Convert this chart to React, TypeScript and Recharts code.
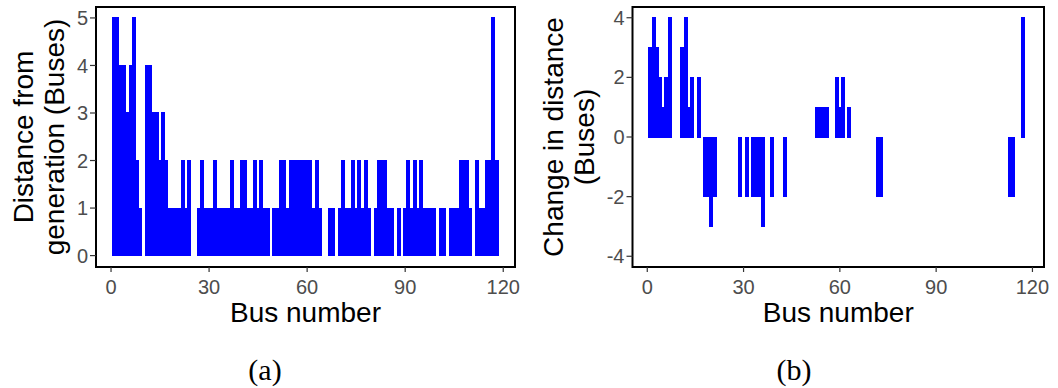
import React from 'react';
import { BarChart, Bar, XAxis, YAxis, ReferenceArea } from 'recharts';

// Bus numbers (categories) of the 118-bus system
const busNumbers: number[] = Array.from({ length: 118 }, (_, i) => i + 1);

// (a) Distance from generation (Buses)
const distanceFromGeneration: number[] = [
  5, 5, 4, 4, 3, 4, 5, 2, 1, 0,
  4, 4, 3, 3, 2, 3, 2, 1, 1, 1,
  1, 2, 1, 2, 0, 0, 1, 2, 1, 1,
  1, 2, 1, 1, 1, 1, 2, 1, 1, 2,
  2, 1, 1, 2, 1, 2, 1, 1, 0, 1,
  1, 2, 2, 1, 2, 2, 2, 2, 2, 2,
  2, 1, 2, 1, 0, 0, 1, 1, 0, 1,
  2, 1, 1, 2, 1, 2, 1, 2, 1, 0,
  1, 2, 2, 2, 1, 1, 0, 1, 0, 1,
  2, 1, 2, 1, 2, 1, 1, 1, 1, 0,
  1, 1, 0, 1, 1, 1, 2, 2, 2, 1,
  0, 2, 1, 1, 2, 2, 5, 2,
];

// (b) Change in distance (Buses)
const changeInDistance: number[] = [
  3, 4, 3, 2, 1, 2, 4, 0, 0, 0,
  3, 4, 1, 2, 0, 2, 0, -2, -2, -3,
  -2, 0, 0, 0, 0, 0, 0, 0, -2, 0,
  -2, 0, -2, -2, -2, -3, 0, 0, -2, 0,
  0, 0, -2, 0, 0, 0, 0, 0, 0, 0,
  0, 0, 1, 1, 1, 1, 0, 0, 2, 1,
  2, 0, 1, 0, 0, 0, 0, 0, 0, 0,
  0, -2, -2, 0, 0, 0, 0, 0, 0, 0,
  0, 0, 0, 0, 0, 0, 0, 0, 0, 0,
  0, 0, 0, 0, 0, 0, 0, 0, 0, 0,
  0, 0, 0, 0, 0, 0, 0, 0, 0, 0,
  0, 0, -2, -2, 0, 0, 4, 0,
];

const xTicks: number[] = [0, 30, 60, 90, 120];
const distanceTicks: number[] = [0, 1, 2, 3, 4, 5];
const changeTicks: number[] = [-4, -2, 0, 2, 4];

const distanceData = busNumbers.map((bus, i) => ({ bus, value: distanceFromGeneration[i] }));
const changeData = busNumbers.map((bus, i) => ({ bus, value: changeInDistance[i] }));

const SANS = '"Liberation Sans", Arial, Helvetica, sans-serif';
const SERIF = '"Liberation Serif", "Times New Roman", serif';
const BLUE = '#0000FF';
const X_DOMAIN: [number, number] = [-4.6, 123.6];

type PanelProps = {
  width: number;
  data: { bus: number; value: number }[];
  yDomain: [number, number];
  yTicks: number[];
  yAxisWidth: number;
  marginRight: number;
};

function Panel({ width, data, yDomain, yTicks, yAxisWidth, marginRight }: PanelProps) {
  return (
    <BarChart
      width={width}
      height={388}
      data={data}
      margin={{ top: 7, right: marginRight, bottom: 0, left: 0 }}
      barCategoryGap={0}
      barGap={0}
    >
      <XAxis
        dataKey="bus"
        type="number"
        domain={X_DOMAIN}
        ticks={xTicks}
        allowDataOverflow
        interval={0}
        height={121}
        tickSize={5}
        tickMargin={8}
        axisLine={false}
        tickLine={{ stroke: '#333333', strokeWidth: 1.2 }}
        tick={{ fill: '#4D4D4D', fontSize: 20, fontFamily: SANS }}
      />
      <YAxis
        type="number"
        domain={yDomain}
        ticks={yTicks}
        allowDataOverflow
        interval={0}
        width={yAxisWidth}
        tickSize={6}
        tickMargin={2}
        axisLine={false}
        tickLine={{ stroke: '#333333', strokeWidth: 1.2 }}
        tick={{ fill: '#4D4D4D', fontSize: 20, fontFamily: SANS }}
      />
      <Bar
        dataKey="value"
        fill={BLUE}
        stroke={BLUE}
        strokeWidth={1}
        shapeRendering="crispEdges"
        isAnimationActive={false}
      />
      <ReferenceArea
        x1={X_DOMAIN[0]}
        x2={X_DOMAIN[1]}
        y1={yDomain[0]}
        y2={yDomain[1]}
        fill="none"
        stroke="#000000"
        strokeWidth={2}
        ifOverflow="visible"
      />
    </BarChart>
  );
}

const titleStyle = { fontFamily: SANS, fontSize: 28, fill: '#000000' } as const;

export default function App() {
  return (
    <div style={{ position: 'absolute', left: 0, top: 0, width: 1058, height: 388, background: '#ffffff' }}>
      <div style={{ position: 'absolute', left: 0, top: 0 }}>
        <Panel
          width={530}
          data={distanceData}
          yDomain={[-0.24, 5.23]}
          yTicks={distanceTicks}
          yAxisWidth={96}
          marginRight={15}
        />
      </div>
      <div style={{ position: 'absolute', left: 530, top: 0 }}>
        <Panel
          width={528}
          data={changeData}
          yDomain={[-4.36, 4.36]}
          yTicks={changeTicks}
          yAxisWidth={102.5}
          marginRight={14}
        />
      </div>
      <svg
        width={1058}
        height={388}
        style={{ position: 'absolute', left: 0, top: 0, pointerEvents: 'none' }}
      >
        <text x={33} y={137} transform="rotate(-90 33 137)" textAnchor="middle" {...titleStyle}>
          Distance from
        </text>
        <text x={64} y={137} transform="rotate(-90 64 137)" textAnchor="middle" {...titleStyle}>
          generation (Buses)
        </text>
        <text x={563} y={137} transform="rotate(-90 563 137)" textAnchor="middle" {...titleStyle}>
          Change in distance
        </text>
        <text x={594} y={137} transform="rotate(-90 594 137)" textAnchor="middle" {...titleStyle}>
          (Buses)
        </text>
        <text x={305.5} y={322} textAnchor="middle" {...titleStyle}>
          Bus number
        </text>
        <text x={838.25} y={322} textAnchor="middle" {...titleStyle}>
          Bus number
        </text>
        <text x={265} y={380} textAnchor="middle" fontFamily={SERIF} fontSize={30} fill="#000000">
          (a)
        </text>
        <text x={794} y={380} textAnchor="middle" fontFamily={SERIF} fontSize={30} fill="#000000">
          (b)
        </text>
      </svg>
    </div>
  );
}
